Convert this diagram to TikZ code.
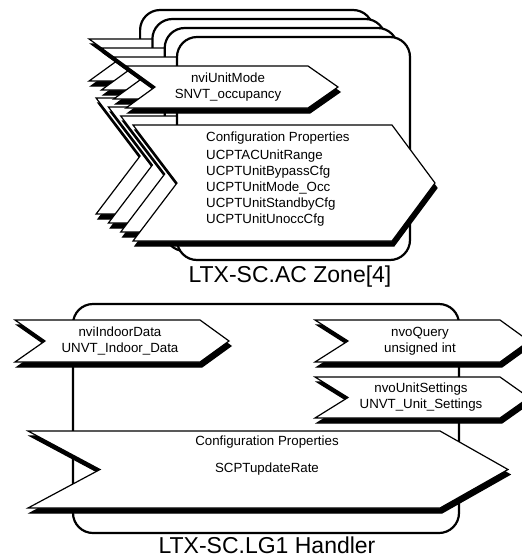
\documentclass[tikz,border=0pt]{standalone}
\usepackage{fontspec}
\setmainfont{Liberation Sans}
\usetikzlibrary{positioning,calc}

\tikzset{
  boxline/.style={line width=2.2pt, draw=black, fill=white, rounded corners=20pt},
  chevline/.style={line width=1.2pt, draw=black, fill=white, line join=miter},
  chevshadow/.style={line width=1.2pt, draw=black, fill=black, line join=miter},
  lbl/.style={font=\fontsize{13.3}{16}\selectfont, align=center, inner sep=0pt},
  title/.style={font=\fontsize{23}{26}\selectfont, inner sep=0pt}
}

% chevron: left x, top y, right x, bottom y, notch depth, point depth
\newcommand{\nvchevron}[6]{%
  \draw[chevshadow, shift={(2,5)}] (#1,#2) -- (#3,#2) -- ({#3+#6},{(#2+#4)/2}) -- (#3,#4)
    -- (#1,#4) -- ({#1+#5},{(#2+#4)/2}) -- cycle;
  \draw[chevline] (#1,#2) -- (#3,#2) -- ({#3+#6},{(#2+#4)/2}) -- (#3,#4)
    -- (#1,#4) -- ({#1+#5},{(#2+#4)/2}) -- cycle;
}

\begin{document}
\begin{tikzpicture}[x=1pt, y=-1pt]
  \useasboundingbox (0,0) rectangle (522,558);
  \clip (0,0) rectangle (522,558);

  % AC Zone array, back copies first
  \foreach \k in {3,2,1,0} {
    \begin{scope}[shift={({-12.3*\k},{-9*\k})}]
      \draw[boxline] (177,37) rectangle (410,260);
      \nvchevron{126}{66}{308}{108}{29}{30}
      \nvchevron{133}{125}{392}{241}{44}{43}
    \end{scope}
  }
  \node[lbl] (unitmode) at (228,87) {nviUnitMode\\SNVT\_occupancy};
  \node[lbl, align=left, anchor=west] (cfgzone) at (206,179)
    {Configuration Properties\\[2pt] UCPTACUnitRange\\ UCPTUnitBypassCfg\\ UCPTUnitMode\_Occ\\
     UCPTUnitStandbyCfg\\ UCPTUnitUnoccCfg};
  \node[title, anchor=base] (zonetitle) at (290,282) {LTX-SC.AC Zone[4]};

  % LG1 Handler
  \draw[boxline] (73,304) rectangle (459,533);
  \nvchevron{15}{320}{200}{362}{30}{29}
  \nvchevron{315}{320}{500}{362}{33}{29}
  \nvchevron{315}{377}{500}{418}{33}{29}
  \nvchevron{28}{431}{440}{508}{72}{68}
  \node[lbl] (indoor) at (120,341) {nviIndoorData\\UNVT\_Indoor\_Data};
  \node[lbl] (query) at (420,341) {nvoQuery\\unsigned int};
  \node[lbl] (settings) at (421,397) {nvoUnitSettings\\UNVT\_Unit\_Settings};
  \node[lbl] (cfghead) at (267,442) {Configuration Properties};
  \node[lbl] (cfgrate) at (267,469) {SCPTupdateRate};
  \node[title, anchor=base] (handlertitle) at (267,553) {LTX-SC.LG1 Handler};
\end{tikzpicture}
\end{document}
